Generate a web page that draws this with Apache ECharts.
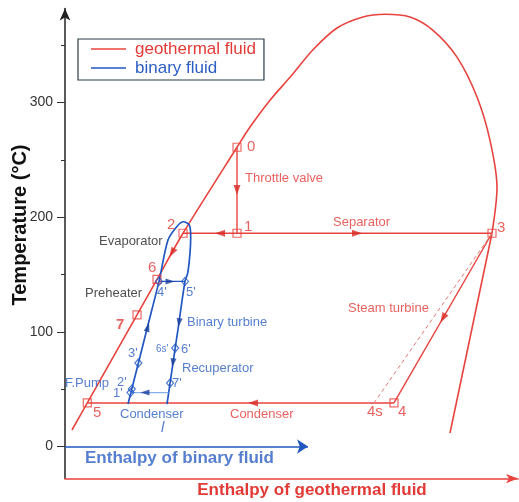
<!DOCTYPE html>
<html><head><meta charset="utf-8">
<script src="https://cdn.jsdelivr.net/npm/echarts@6/dist/echarts.min.js"></script>
<style>html,body{margin:0;padding:0;background:#fff}#c{width:519px;height:502px}</style>
</head><body><div id="c"></div>
<script>
// ---------------- data (enthalpy: arbitrary units, temperature: °C) ----------------
// saturation curve of geothermal fluid (water)
const geoDomeH = [7, 22.3, 72, 92, 118, 172, 185, 205, 225, 248, 272, 298, 320, 345, 368, 392, 412, 425, 432, 427];
const geoDomeT = [14.4, 38, 114.8, 145.7, 186, 261, 278.6, 302, 322, 346, 365, 374.6, 377, 374.6, 363, 339.6, 304.8, 267, 226, 186];
const geoDomeLowH = [427, 385];
const geoDomeLowT = [186, 11.8];
// geothermal state points
const geoStateNames = ['0', '1', '2', '3', '4', '5', '6', '7'];
const geoStateH = [172, 172, 118, 427, 329, 22.3, 92, 72];
const geoStateT = [261, 186, 186, 186, 38, 38, 145.7, 114.8];
const geo4sH = 309, geo4sT = 38;
// saturation curve of binary fluid
const binDomeH = [63, 66.8, 73.4, 81.7, 94, 103, 111.7, 118.3, 124.3, 125.7, 125, 122.7, 120, 113.3, 110.2, 105.1, 102];
const binDomeT = [37, 50.1, 72.8, 101.6, 144, 180, 191.7, 196, 193, 183, 168.7, 151.2, 144, 104, 85.9, 55.4, 37];
// binary state points
const binStateNames = ["1'", "2'", "3'", "4'", "5'", "6'", "7'"];
const binStateH = [65.5, 66.8, 73.4, 94, 120, 110.2, 105.1];
const binStateT = [47, 50.1, 72.8, 144, 144, 85.9, 55.4];
const recupH = [103.5, 65.5], recupT = [47, 47];
const binAxisEndH = 243;
// flow direction arrows: [h, T, towardH, towardT]
const geoArrows = [[172, 223.7, 172, 186], [155, 186, 118, 186], [292, 186, 427, 186], [378, 112, 329, 38], [188, 38, 22.3, 38], [107, 169, 92, 145.7]];
const binArrows = [[82.8, 104, 87.7, 119], [105, 144, 120, 144], [114, 108, 110.2, 85.9], [107.9, 73, 105.1, 55.4], [80, 47, 65.5, 47]];
// y tick values
const yMajorTicks = [0, 100, 200, 300];
const yMinorTicks = [0, 50, 100, 150, 200, 250, 300, 350];
// text annotations: [text, h, T, kind]
const annotations = [
  ['0', 182, 261.2, 'gnum'], ['1', 179, 191.4, 'gnum'], ['2', 102, 193.2, 'gnum'], ['3', 432, 190.5, 'gnum'],
  ['4s', 302, 30.1, 'gnum'], ['4', 333, 30.1, 'gnum'], ['5', 28, 29.2, 'gnum'], ['6', 83, 155.7, 'gnum'], ['7', 51, 106, 'gnumb'],
  ['Throttle valve', 180, 234.1, 'gtxt'], ['Separator', 268, 195.8, 'gtxt'], ['Steam turbine', 283, 120.8, 'gtxt'], ['Condenser', 165, 28.3, 'gtxt'],
  ['Evaporator', 34, 179.2, 'ktxt'], ['Preheater', 20, 133.9, 'ktxt'],
  ['Binary turbine', 122, 108.6, 'btxt'], ['Recuperator', 117, 68.5, 'btxt'], ["6s'", 91, 85, 'bsmall'], ["6'", 116, 85, 'bnum'],
  ["7'", 107, 55.4, 'bnum'], ['F.Pump', 0, 55.4, 'btxt'], ["2'", 52, 56.2, 'bnum'], ["1'", 48, 46.7, 'bnum'], ["3'", 63, 81.5, 'bnum'],
  ["4'", 92, 134.7, 'bnum'], ["5'", 121, 134.7, 'bnum'], ['Condenser', 55, 28.3, 'btxt'], ['l', 96, 16.1, 'bital'],
  ['Enthalpy of binary fluid', 20, -10, 'baxis']
];

// ---------------- styles ----------------
const FONT = '"Liberation Sans", Arial, sans-serif';
const RED = '#e8443f', RED_T = '#e23a36', BLUE = '#2257c2', BLUE_T = '#2c5ec3', LBLUE = '#86aee8', BLACK_T = '#222';
const X_MIN = 0, X_MAX = 453, Y_MIN = -28, Y_MAX = 382;
const GRID = {left: 65, right: 1, top: 8.5, bottom: 23.4};
const pxPerH = (519 - GRID.left - GRID.right) / (X_MAX - X_MIN);
const pxPerT = (502 - GRID.top - GRID.bottom) / (Y_MAX - Y_MIN);
const kindStyle = {
  gnum: {color: RED_T, fontSize: 15}, gnumb: {color: RED_T, fontSize: 15, fontWeight: 'bold'},
  gtxt: {color: RED_T, fontSize: 13}, ktxt: {color: BLACK_T, fontSize: 13},
  btxt: {color: BLUE_T, fontSize: 13}, bnum: {color: BLUE_T, fontSize: 13}, bsmall: {color: BLUE_T, fontSize: 10},
  bital: {color: BLUE_T, fontSize: 15, fontStyle: 'italic'}, baxis: {color: BLUE_T, fontSize: 17, fontWeight: 'bold'}
};

const zip = (a, b) => a.map((v, i) => [v, b[i]]);
const angleOf = a => Math.atan2((a[3] - a[1]) * pxPerT, (a[2] - a[0]) * pxPerH) * 180 / Math.PI - 90;
function seg(name, pts, color, width, extra) {
  return Object.assign({type: 'line', name, data: pts, symbol: 'none', silent: true, z: 3,
    lineStyle: {color, width}, itemStyle: {color}}, extra || {});
}
const gs = i => [geoStateH[i], geoStateT[i]];

const series = [
  seg('geothermal fluid', zip(geoDomeH, geoDomeT), RED, 1.6, {smooth: 0.3}),
  seg('geoLow', zip(geoDomeLowH, geoDomeLowT), RED, 1.6),
  seg('throttle', [gs(0), gs(1)], RED, 1.4),
  seg('separator', [gs(2), gs(1), gs(3)], RED, 1.4),
  seg('turbine', [gs(3), gs(4)], RED, 1.4),
  seg('condenser', [gs(4), gs(5)], RED, 1.4),
  seg('isentropic', [gs(3), [geo4sH, geo4sT]], '#e27a78', 1, {lineStyle: {color: '#e27a78', width: 1, type: [4, 3]}}),
  seg('binary fluid', zip(binDomeH, binDomeT), BLUE, 1.7, {smooth: 0.3, z: 4}),
  seg('evapBin', [[binStateH[3], binStateT[3]], [binStateH[4], binStateT[4]]], BLUE, 1.4, {z: 4}),
  seg('recup', zip(recupH, recupT), LBLUE, 1.2, {z: 4}),
  {type: 'lines', coordinateSystem: 'cartesian2d', silent: true, z: 4,
    symbol: ['none', 'arrow'], symbolSize: 11,
    lineStyle: {color: BLUE, width: 1.5, opacity: 1},
    data: [{coords: [[0, 0], [binAxisEndH, 0]]}]},
  {type: 'scatter', name: 'geoStates', symbol: 'rect', symbolSize: 8, silent: true, z: 6,
    itemStyle: {color: 'rgba(255,255,255,0)', borderColor: RED, borderWidth: 1.2},
    data: zip(geoStateH, geoStateT)},
  {type: 'scatter', name: 'binStates', symbol: 'diamond', symbolSize: [7, 8], silent: true, z: 6,
    itemStyle: {color: 'rgba(255,255,255,0)', borderColor: BLUE, borderWidth: 1.2},
    data: zip(binStateH, binStateT)},
  {type: 'scatter', name: 'geoArrows', symbol: 'triangle', symbolSize: [7, 10], silent: true, z: 7,
    itemStyle: {color: '#d92a26'},
    data: geoArrows.map(a => ({value: [a[0], a[1]], symbolRotate: angleOf(a)}))},
  {type: 'scatter', name: 'binArrows', symbol: 'triangle', symbolSize: [6, 9], silent: true, z: 7,
    itemStyle: {color: '#163f9c'},
    data: binArrows.map(a => ({value: [a[0], a[1]], symbolRotate: angleOf(a)}))},
  {type: 'scatter', name: 'notes', symbolSize: 1, silent: true, z: 8, clip: false,
    itemStyle: {color: 'rgba(0,0,0,0)'},
    data: annotations.map(a => ({value: [a[1], a[2]], name: a[0],
      label: Object.assign({show: true, position: 'inside', formatter: a[0], align: 'left', verticalAlign: 'middle', fontFamily: FONT}, kindStyle[a[3]])}))}
];

const chart = echarts.init(document.getElementById('c'));
chart.setOption({
  animation: false,
  backgroundColor: '#fff',
  grid: GRID,
  legend: {
    data: [{name: 'geothermal fluid', textStyle: {color: RED_T}}, {name: 'binary fluid', textStyle: {color: BLUE_T}}],
    orient: 'vertical', left: 78, top: 39, icon: 'rect', itemWidth: 35, itemHeight: 1.6, itemGap: 1,
    padding: [1, 8, 3, 13], borderColor: '#2b3d45', borderWidth: 1.2, selectedMode: false,
    textStyle: {fontSize: 17, fontFamily: FONT, lineHeight: 18, padding: [0, 0, 0, 4]}
  },
  xAxis: {type: 'value', min: X_MIN, max: X_MAX,
    axisLine: {show: true, onZero: false, symbol: ['none', 'arrow'], symbolSize: [7, 12], lineStyle: {color: RED, width: 1.5}},
    axisTick: {show: false}, axisLabel: {show: false}, splitLine: {show: false}},
  yAxis: [
    {type: 'value', min: Y_MIN, max: Y_MAX, position: 'left',
      axisLine: {show: true, onZero: false, symbol: ['none', 'arrow'], symbolSize: [8, 12], lineStyle: {color: '#222', width: 1.5}},
      axisTick: {show: true, length: 4, customValues: yMinorTicks, lineStyle: {color: '#333', width: 1}},
      axisLabel: {show: true, customValues: yMajorTicks, margin: 12, fontSize: 14, color: '#333', fontFamily: FONT},
      splitLine: {show: false}},
    {type: 'value', min: Y_MIN, max: Y_MAX, position: 'left',
      axisLine: {show: false}, axisTick: {show: true, length: 8, customValues: yMajorTicks, lineStyle: {color: '#333', width: 1}},
      axisLabel: {show: false}, splitLine: {show: false}}
  ],
  graphic: [
    {type: 'text', x: 20, y: 225, rotation: Math.PI / 2, silent: true,
      style: {text: 'Temperature (°C)', fontSize: 20, fontWeight: 'bold', fontFamily: FONT, fill: '#111', align: 'center', verticalAlign: 'middle'}},
    {type: 'text', x: 312, y: 490, silent: true,
      style: {text: 'Enthalpy of geothermal fluid', fontSize: 17, fontWeight: 'bold', fontFamily: FONT, fill: RED_T, align: 'center', verticalAlign: 'middle'}}
  ],
  series
});
</script></body></html>
